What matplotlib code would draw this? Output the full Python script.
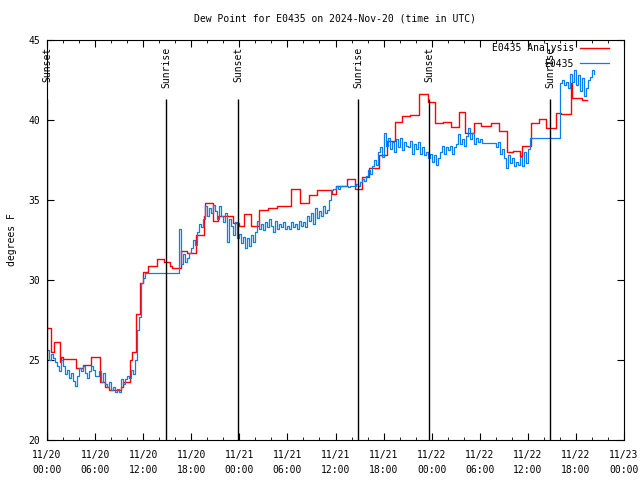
import numpy as np
import matplotlib
matplotlib.use('Agg')
import matplotlib.pyplot as plt

# ============================== Data ==========================================
title = 'Dew Point for E0435 on 2024-Nov-20 (time in UTC)'

# analysis (red) - step start times [h since 11/20 00:00] and values [F]
red_t = [0.0, 0.5, 0.9, 1.6, 1.8, 2.0, 3.6, 4.5, 5.5, 6.6, 7.2, 7.7, 8.4, 9.2, 9.5,
         10.4, 10.6, 11.1, 11.6, 12.0, 12.6, 13.7, 14.6, 15.4, 15.6, 16.7, 17.5,
         18.6, 19.6, 19.7, 20.7, 21.4, 23.2, 23.9, 24.6, 25.5, 26.4, 27.6, 28.7,
         30.5, 31.6, 32.7, 33.7, 35.6, 36.0, 37.4, 38.4, 39.3, 40.2, 41.4, 42.4,
         43.4, 44.3, 45.3, 46.4, 47.6, 48.4, 49.4, 50.4, 51.4, 52.2, 53.3, 54.2,
         55.4, 56.4, 57.4, 58.2, 59.0, 59.3, 60.4, 61.4, 62.3, 63.5, 64.2, 65.4,
         65.5, 66.7, 67.4]
red_v = [27.0, 25.5, 26.1, 24.9, 25.2, 25.05, 24.5, 24.7, 25.2, 23.6, 23.3, 23.1, 23.1,
         23.3, 23.6, 25.0, 25.5, 27.9, 29.8, 30.5, 30.9, 31.3, 31.1, 30.9, 30.75,
         31.8, 31.7, 32.8, 34.0, 34.8, 33.7, 34.0, 33.55, 33.4, 34.1, 33.4, 34.4,
         34.5, 34.6, 35.7, 34.8, 35.3, 35.6, 35.4, 35.9, 36.3, 35.7, 36.45, 37.0,
         37.8, 38.7, 39.85, 40.25, 40.3, 41.6, 41.15, 39.8, 39.9, 39.55, 40.5, 39.2,
         39.8, 39.6, 39.8, 39.3, 38.0, 38.05, 37.75, 38.4, 39.8, 40.05, 39.5, 40.45,
         40.4, 42.3, 41.4, 41.25, 41.25]

# observations (blue) - every 15 min from 11/20 00:00
obs_v = [
    25.6, 25.0, 25.4, 25.1,  24.9, 24.6, 24.3, 25.0,  24.6, 24.1, 24.4, 23.9,
    24.2, 23.7, 23.4, 24.0,  24.5, 24.3, 24.6, 24.2,  23.9, 24.3, 24.6, 24.4,
    24.0, 24.0, 24.3, 23.6,  24.2, 23.5, 23.3, 23.6,  23.1, 23.3, 23.0, 23.2,
    23.0, 23.8, 23.5, 23.8,  24.0, 23.9, 24.4, 24.1,  25.0, 26.9, 27.7, 29.8,
    30.1, 30.45, 30.45, 30.45,  30.45, 30.45, 30.45, 30.45,  30.45, 30.45, 30.45, 30.45,
    30.45, 30.45, 30.45, 30.45,  30.45, 30.45, 33.2, 31.0,  31.6, 31.1, 31.4, 31.7,
    32.0, 32.5, 32.2, 33.0,  33.5, 33.3, 33.8, 34.6,  34.0, 34.5, 34.2, 34.7,
    34.3, 33.8, 34.6, 34.0,  33.6, 34.2, 32.4, 33.8,  33.4, 32.8, 33.6, 32.6,
    32.9, 32.3, 32.7, 32.0,  32.6, 32.1, 32.8, 32.4,  33.0, 33.7, 33.2, 33.5,
    33.1, 33.6, 33.3, 33.8,  33.4, 33.0, 33.7, 33.2,  33.5, 33.3, 33.6, 33.2,
    33.4, 33.2, 33.6, 33.3,  33.5, 33.2, 33.7, 33.4,  33.6, 33.3, 34.0, 33.7,
    34.2, 33.5, 34.5, 33.9,  34.3, 34.0, 34.6, 34.2,  34.4, 35.0, 35.6, 35.7,
    35.9, 35.7, 35.9, 35.9,  35.9, 35.9, 35.8, 35.9,  35.9, 35.9, 36.0, 35.9,
    36.1, 36.3, 36.2, 36.5,  36.9, 36.6, 37.1, 37.5,  37.2, 38.0, 38.3, 37.7,
    39.2, 38.4, 38.9, 38.2,  38.6, 38.0, 38.8, 38.3,  38.9, 38.1, 38.6, 38.4,
    38.3, 38.7, 37.9, 38.5,  38.2, 38.6, 37.9, 38.3,  37.8, 38.0, 37.6, 37.9,
    37.4, 37.8, 37.2, 37.6,  38.0, 38.4, 37.9, 38.3,  38.1, 38.4, 37.9, 38.3,
    38.5, 39.1, 38.5, 38.8,  38.4, 39.0, 39.5, 38.8,  39.2, 38.5, 38.9, 38.6,
    38.8, 38.55, 38.55, 38.55,  38.55, 38.55, 38.55, 38.55,  38.3, 38.6, 37.9, 38.2,
    37.6, 37.0, 37.8, 37.3,  37.6, 37.1, 37.4, 37.2,  37.7, 37.1, 38.0, 37.3,
    38.2, 38.9, 38.9, 38.9,  38.9, 38.9, 38.9, 38.9,  38.9, 38.9, 38.9, 38.9,
    38.9, 38.9, 38.9, 38.9,  42.3, 42.5, 42.2, 42.4,  42.0, 42.9, 42.4, 43.1,
    42.2, 42.8, 41.8, 42.6,  41.5, 42.0, 42.5, 42.7,  43.1, 42.9]

# sunrise / sunset events [h]
sun_t = [0.0, 14.85, 23.85, 38.8, 47.7, 62.8]
sun_lbl = ['Sunset', 'Sunrise', 'Sunset', 'Sunrise', 'Sunset', 'Sunrise']

xtick_h = list(range(0, 73, 6))
xtick_lbl = ['11/20\n00:00', '11/20\n06:00', '11/20\n12:00', '11/20\n18:00',
             '11/21\n00:00', '11/21\n06:00', '11/21\n12:00', '11/21\n18:00',
             '11/22\n00:00', '11/22\n06:00', '11/22\n12:00', '11/22\n18:00',
             '11/23\n00:00']

# ============================== Plot ==========================================
plt.rcParams['font.family'] = ['DejaVu Sans Mono']
plt.rcParams['font.size'] = 7

fig = plt.figure(figsize=(6.4, 4.8), dpi=100)
ax = fig.add_axes([47/640, 40/480, 577/640, 400/480])

obs_t = np.arange(len(obs_v)) / 4.0
ax.plot(red_t, red_v, drawstyle='steps-post', color='#ff0000', lw=1.0,
        label='E0435 Analysis')
ax.plot(obs_t, obs_v, drawstyle='steps-post', color='#0a80f0', lw=0.9,
        label='E0435')

for t, s in zip(sun_t, sun_lbl):
    ax.vlines(t, 20, 41.3, color='black', lw=1.0)
    ax.text(t, 44.55, s, rotation=90, ha='center', va='top', fontsize=7)

ax.set_xlim(0, 72)
ax.set_ylim(20, 45)
ax.set_xticks(xtick_h)
ax.set_xticklabels(xtick_lbl, linespacing=1.6)
ax.set_xticks(np.arange(0, 73, 2), minor=True)
ax.set_yticks([20, 25, 30, 35, 40, 45])
ax.tick_params(which='both', direction='in', top=True, right=True)
ax.tick_params(axis='x', pad=7)
ax.tick_params(axis='y', pad=5)
ax.tick_params(which='major', length=5)
ax.tick_params(which='minor', length=2.5)
ax.set_ylabel('degrees F', labelpad=8)
ax.set_title(title, fontsize=7, pad=13)

ax.legend(loc='upper right', bbox_to_anchor=(0.974, 0.992), frameon=False,
          markerfirst=False, handlelength=3.0, borderaxespad=0, borderpad=0,
          labelspacing=0.55, handletextpad=0.6)

plt.savefig('out.png', dpi=100)
